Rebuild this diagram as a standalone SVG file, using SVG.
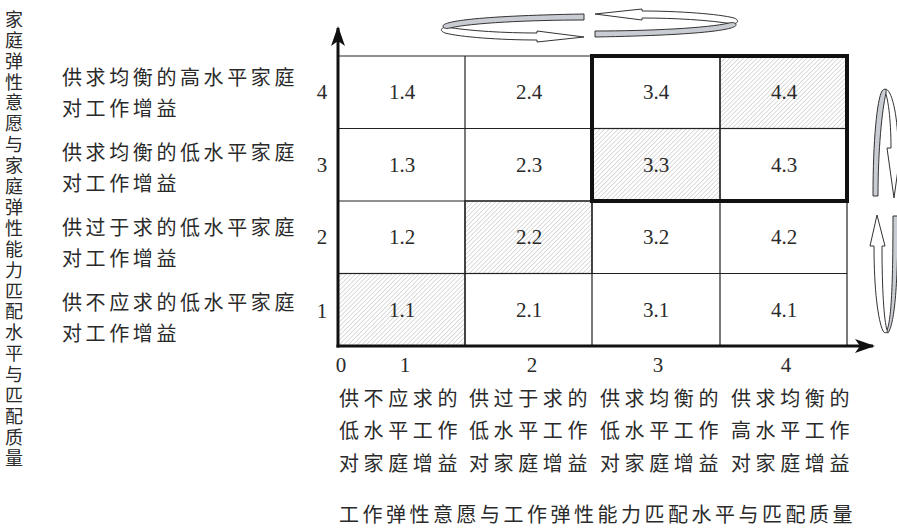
<svg xmlns="http://www.w3.org/2000/svg" width="897" height="529" viewBox="0 0 897 529">
<style>
.cjk{font-family:"Noto Sans CJK SC","Noto Sans CJK JP",sans-serif;font-size:20px;fill:#2a2a2a}
.lab{letter-spacing:3.6px}
.bot{letter-spacing:4.6px}
.ttl{letter-spacing:3.5px}
.num{font-family:"Liberation Serif","Times New Roman",serif;font-size:21px;fill:#2a2a2a}
.cell{fill:none;stroke:#222;stroke-width:1.2}
.hat{fill:url(#hatch);stroke:#222;stroke-width:1.2}
.gray{fill:#c9ccd3;stroke:#333;stroke-width:1}
.white{fill:#fff;stroke:#333;stroke-width:1}
</style>
<defs>
<pattern id="hatch" width="3.2" height="3.2" patternUnits="userSpaceOnUse" patternTransform="rotate(45)">
<rect width="3.2" height="3.2" fill="#fff"/>
<line x1="0" y1="0" x2="0" y2="3.2" stroke="#a8a8a8" stroke-width="0.8"/>
</pattern>
<marker id="ah" viewBox="0 0 20 14" refX="18" refY="7" markerWidth="20" markerHeight="14" markerUnits="userSpaceOnUse" orient="auto">
<path d="M0,0 L20,7 L0,14 L5,7 Z" fill="#111"/>
</marker>
</defs>
<rect width="897" height="529" fill="#fff"/>

<g id="left-title">
<text class="cjk" x="14" y="10" style="writing-mode:vertical-rl;font-size:18px;letter-spacing:2.9px">家庭弹性意愿与家庭弹性能力匹配水平与匹配质量</text>
</g>

<g id="row-labels">
<text class="cjk lab" x="62" y="85">供求均衡的高水平家庭</text>
<text class="cjk lab" x="62" y="116">对工作增益</text>
<text class="cjk lab" x="62" y="160">供求均衡的低水平家庭</text>
<text class="cjk lab" x="62" y="191">对工作增益</text>
<text class="cjk lab" x="62" y="235">供过于求的低水平家庭</text>
<text class="cjk lab" x="62" y="266">对工作增益</text>
<text class="cjk lab" x="62" y="310">供不应求的低水平家庭</text>
<text class="cjk lab" x="62" y="341">对工作增益</text>
</g>

<g id="grid">
<rect id="c11" class="hat" x="338" y="273.5" width="127" height="72.5"/>
<rect id="c22" class="hat" x="465" y="201" width="127" height="72.5"/>
<rect id="c33" class="hat" x="592" y="128.5" width="128" height="72.5"/>
<rect id="c44" class="hat" x="720" y="56" width="127" height="72.5"/>
<path class="cell" d="M338,56 H847 V346 M338,128.5 H847 M338,201 H847 M338,273.5 H847 M465,56 V346 M592,56 V346 M720,56 V346"/>
<rect x="592" y="56" width="255" height="145" fill="none" stroke="#111" stroke-width="4"/>
</g>

<g id="cells" class="num" text-anchor="middle">
<text x="402" y="99">1.4</text><text x="529" y="99">2.4</text><text x="656" y="99">3.4</text><text x="784" y="99">4.4</text>
<text x="402" y="172">1.3</text><text x="529" y="172">2.3</text><text x="656" y="172">3.3</text><text x="784" y="172">4.3</text>
<text x="402" y="244">1.2</text><text x="529" y="244">2.2</text><text x="656" y="244">3.2</text><text x="784" y="244">4.2</text>
<text x="402" y="317">1.1</text><text x="529" y="317">2.1</text><text x="656" y="317">3.1</text><text x="784" y="317">4.1</text>
</g>

<g id="axes">
<line x1="338" y1="347.5" x2="338" y2="28" stroke="#111" stroke-width="3" marker-end="url(#ah)"/>
<line x1="336.5" y1="346" x2="873" y2="346" stroke="#111" stroke-width="3" marker-end="url(#ah)"/>
</g>

<g id="axis-labels" class="num" text-anchor="middle">
<text x="322" y="99">4</text><text x="322" y="172">3</text><text x="322" y="244">2</text><text x="322" y="318">1</text>
<text x="341" y="372">0</text><text x="405" y="372">1</text><text x="532" y="372">2</text><text x="658" y="372">3</text><text x="786" y="372">4</text>
</g>

<g id="col-labels">
<text class="cjk bot" x="339" y="406">供不应求的</text>
<text class="cjk bot" x="339" y="438">低水平工作</text>
<text class="cjk bot" x="339" y="471">对家庭增益</text>
<text class="cjk bot" x="469" y="406">供过于求的</text>
<text class="cjk bot" x="469" y="438">低水平工作</text>
<text class="cjk bot" x="469" y="471">对家庭增益</text>
<text class="cjk bot" x="600" y="406">供求均衡的</text>
<text class="cjk bot" x="600" y="438">低水平工作</text>
<text class="cjk bot" x="600" y="471">对家庭增益</text>
<text class="cjk bot" x="731" y="406">供求均衡的</text>
<text class="cjk bot" x="731" y="438">高水平工作</text>
<text class="cjk bot" x="731" y="471">对家庭增益</text>
</g>

<g id="bottom-title">
<text class="cjk ttl" x="339" y="522">工作弹性意愿与工作弹性能力匹配水平与匹配质量</text>
</g>

<g id="top-rotation">
<g id="top-left-loop">
<path class="white" d="M446,27 C470,31 505,33 537,33 L537,31 L584,37 L537,42 L537,40 C500,40 460,37 445,33 C440,31 440,28 446,27 Z"/>
<path class="gray" d="M584,14 L584,20 C530,20 470,23 450,28 C445,29 443,28 443,26 C443,22 470,16 584,14 Z"/>
</g>
<g id="top-right-loop" transform="rotate(180 589.5 25.5)">
<path class="white" d="M446,27 C470,31 505,33 537,33 L537,31 L584,37 L537,42 L537,40 C500,40 460,37 445,33 C440,31 440,28 446,27 Z"/>
<path class="gray" d="M584,14 L584,20 C530,20 470,23 450,28 C445,29 443,28 443,26 C443,22 470,16 584,14 Z"/>
</g>
</g>

<g id="right-rotation">
<g id="right-upper-loop">
<path class="white" d="M884,90 C888,95 891,120 891,148 L887,148 L894,198 L901,148 L898,148 C898,120 893,92 886,89 Z"/>
<path class="gray" d="M873,196 C873,140 877,100 882,91 C884,88 887,89 886,93 C882,110 878,150 878,196 Z"/>
</g>
<g id="right-lower-loop">
<path class="gray" d="M886,332 C891,325 893,290 893,216 L898,216 C898,290 894,325 888,333 Z"/>
<path class="white" d="M877,215 L885,246 L882,246 C882,290 884,320 887,330 C888,333 885,334 883,331 C878,320 874,290 874,246 L870,246 Z"/>
</g>
</g>
</svg>
